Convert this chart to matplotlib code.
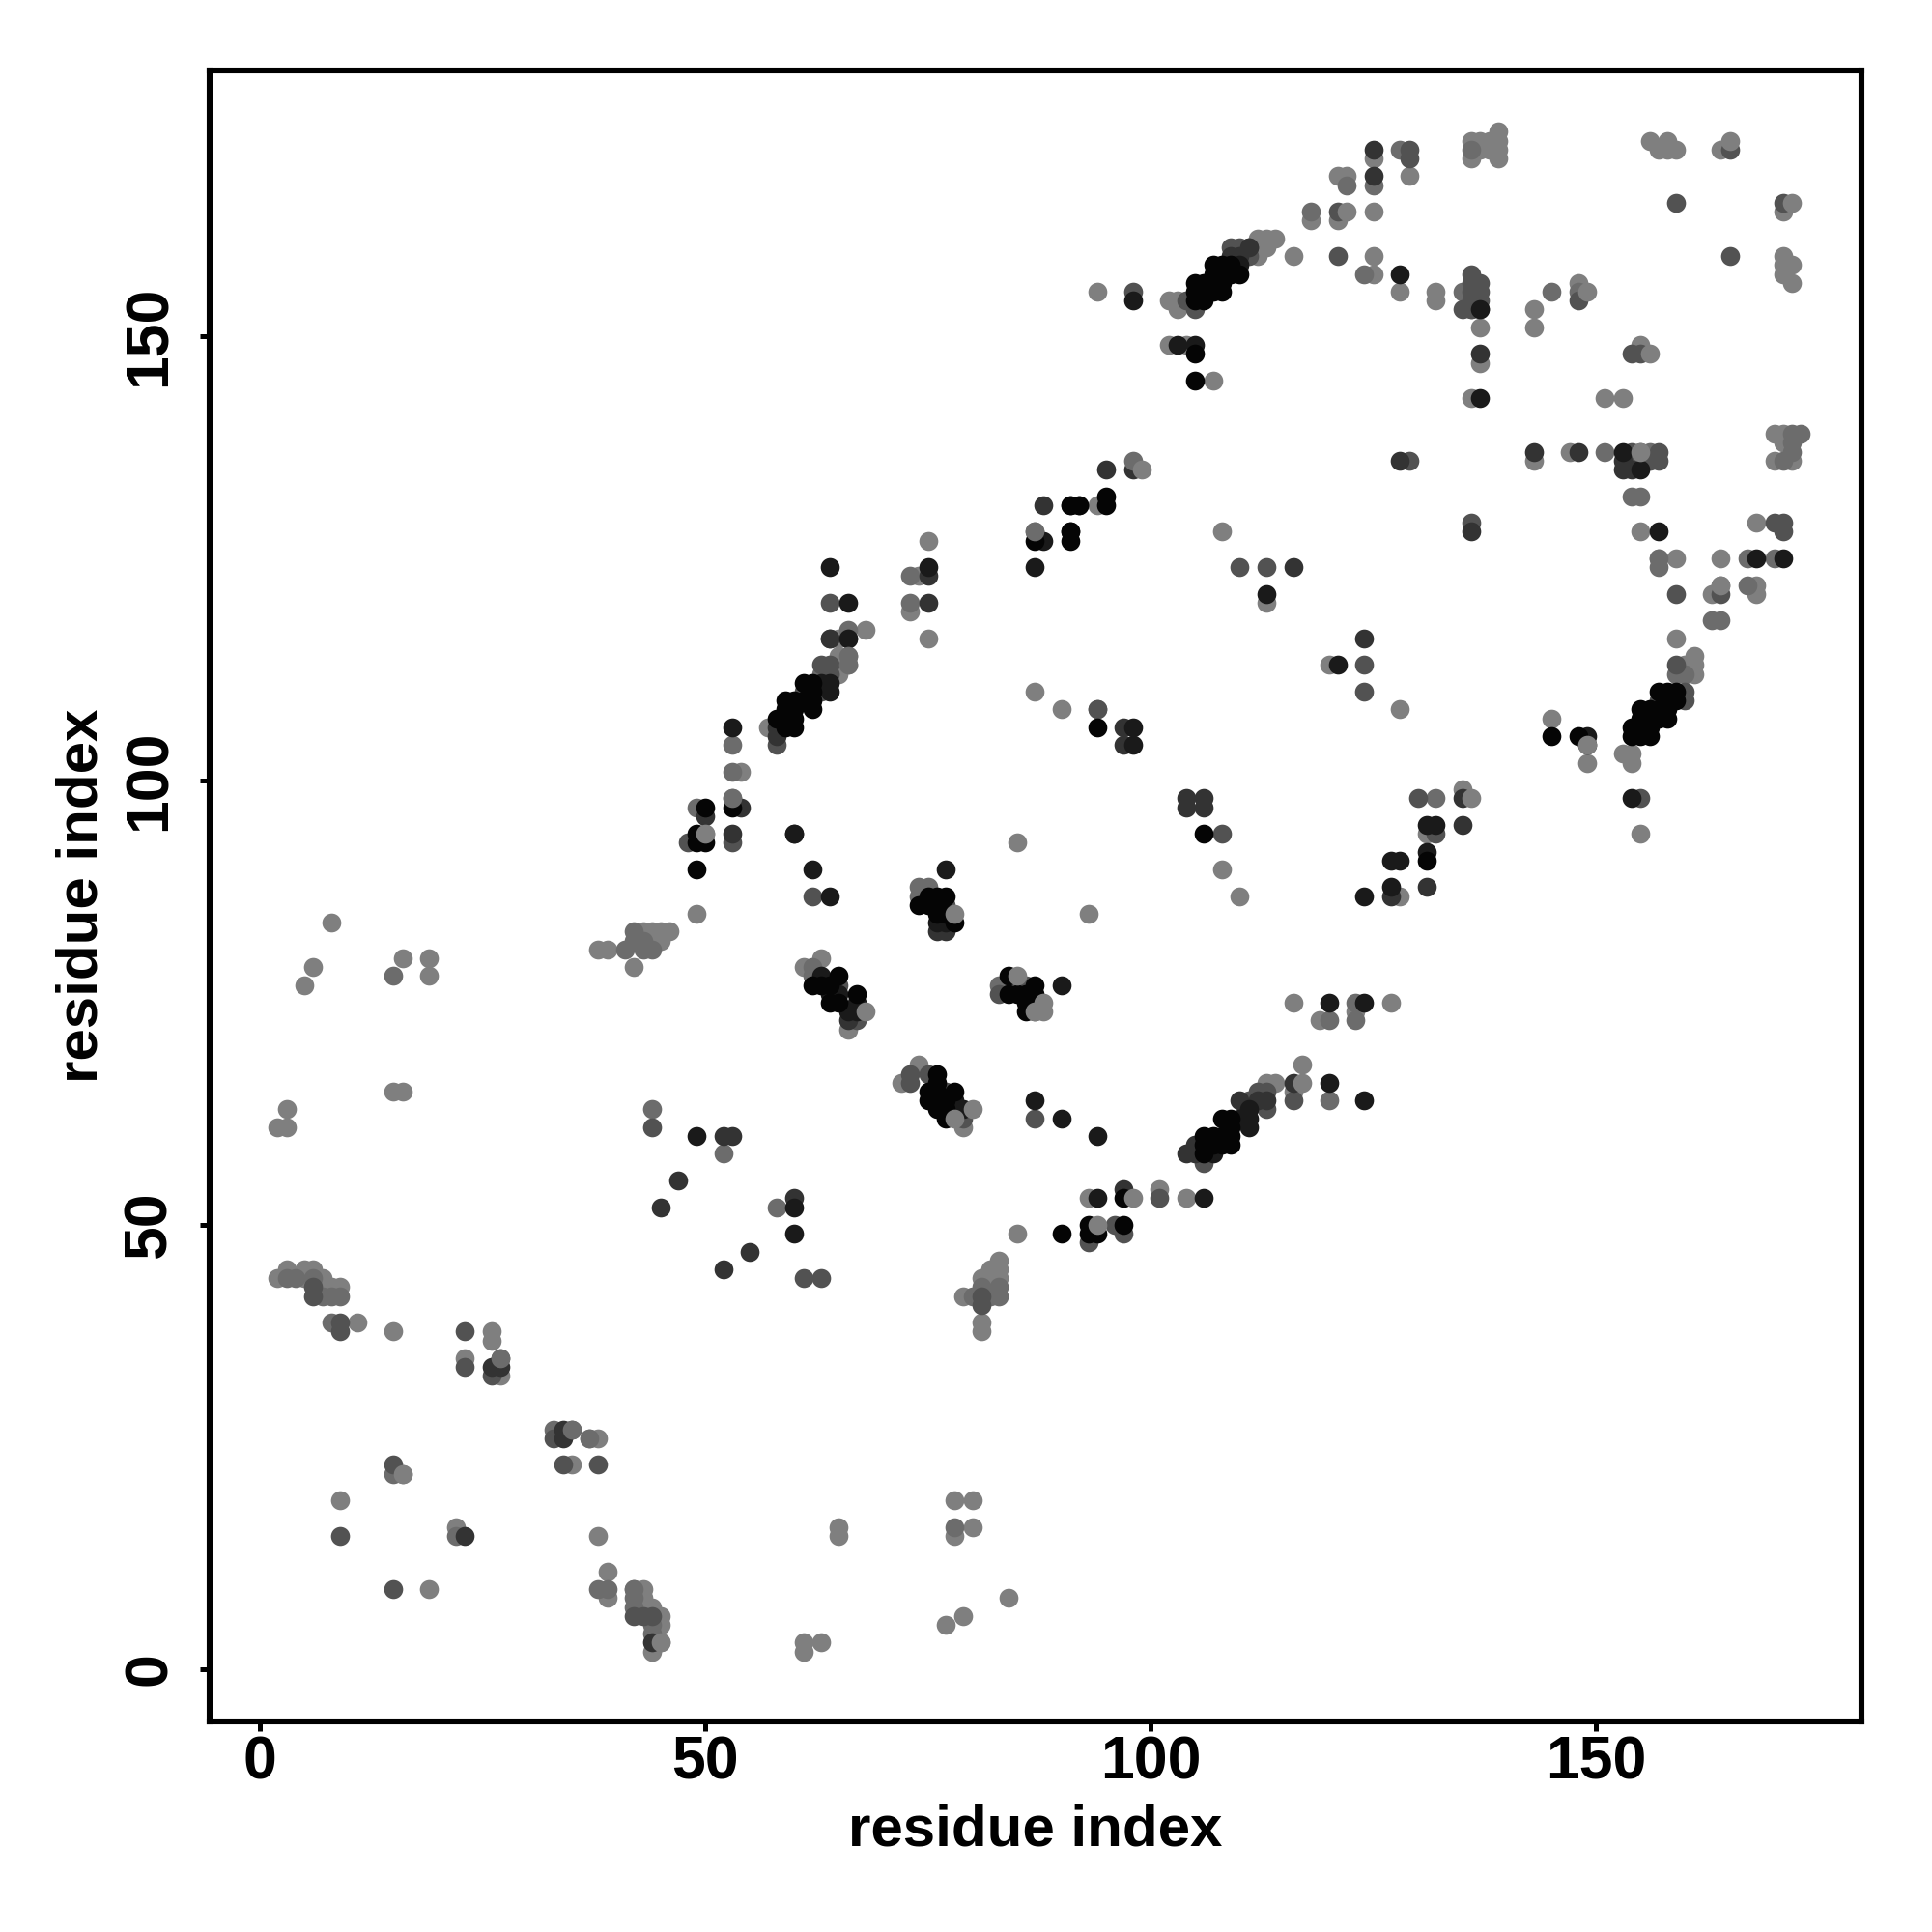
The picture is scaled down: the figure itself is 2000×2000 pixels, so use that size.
import matplotlib
matplotlib.use("Agg")
import matplotlib.pyplot as plt

# contact pairs (residue x, residue y) grouped by how dark the point is
grey_50 = [(136,172),(137,172),(138,172),(139,172),(137,171),(138,171),(139,171),(136,170),(139,170),(139,173),
    (125,170),(129,168),(121,168),(122,168),(121,163),(118,163),(125,164),(116,159),(125,159),(125,157),(128,155),
    (132,155),(132,154),(137,151),(137,147),(136,143),(143,153),(143,151),(148,156),(151,143),(153,143),(155,149),
    (156,172),(158,172),(157,171),(158,171),(159,171),(164,171),(171,164),(171,159),(171,158),(172,158),(171,157),
    (172,156),(94,155),(102,154),(103,154),(103,153),(112,161),(112,160),(112,159),(113,161),(113,160),(114,161),
    (102,149),(104,149),(107,145),(143,136),(147,137),(170,139),(171,139),(171,138),(170,136),(172,136),(94,131),
    (108,128),(155,128),(168,129),(157,125),(159,125),(164,125),(120,113),(128,108),(145,107),(149,102),(113,120),
    (159,116),(163,121),(164,122),(168,122),(168,121),(161,114),(161,113),(161,112),(160,113),(153,103),(154,103),
    (154,102),(155,94),(135,99),(131,94),(128,87),(74,123),(73,119),(68,117),(65,116),(66,114),(66,113),(65,114),
    (65,112),(57,106),(53,98),(54,101),(50,94),(49,85),(108,90),(85,93),(93,85),(110,87),(90,108),(87,110),
    (75,127),(75,116),(63,80),(61,79),(66,72),(72,66),(74,68),(79,61),(119,73),(116,75),(127,75),(123,74),(117,68),
    (113,66),(114,66),(116,65),(85,49),(93,53),(104,53),(101,54),(83,46),(82,45),(83,45),(81,44),(82,44),(83,44),
    (79,42),(81,39),(81,38),(82,43),(2,44),(3,45),(5,45),(6,45),(5,44),(7,44),(7,43),(8,43),(9,43),(11,39),(15,38),
    (26,38),(26,37),(23,35),(27,33),(37,26),(38,26),(35,23),(38,15),(16,22),(9,19),(22,16),(39,11),(39,8),(19,9),
    (43,9),(43,8),(44,7),(43,7),(45,6),(45,5),(45,3),(42,9),(8,84),(6,79),(5,77),(16,80),(19,80),(19,78),(15,65),
    (16,65),(3,63),(2,61),(3,61),(38,81),(39,81),(42,79),(43,83),(44,83),(45,83),(46,83),(45,82),(61,3),(61,2),
    (63,3),(65,16),(65,15),(78,19),(80,19),(78,15),(80,16),(84,8),(79,6),(77,5),(44,2)]
grey_42 = [(136,171),(125,167),(122,167),(118,164),(124,157),(135,155),(128,171),(137,153),(136,153),(145,155),
    (148,155),(154,132),(155,132),(172,139),(173,139),(172,138),(172,137),(171,136),(151,137),(170,125),(167,125),
    (157,124),(159,112),(160,112),(163,118),(164,118),(167,122),(132,98),(53,104),(53,101),(73,123),(73,120),
    (66,117),(63,112),(64,112),(87,128),(74,88),(75,88),(74,87),(62,79),(62,78),(83,77),(84,77),(120,64),(120,73),
    (58,52),(52,58),(44,63),(81,43),(80,42),(82,42),(83,42),(83,43),(4,44),(6,44),(7,42),(8,42),(9,42),(8,39),
    (33,27),(37,26),(22,15),(15,22),(38,9),(39,9),(42,8),(42,7),(44,5),(44,4),(41,81),(42,83),(42,82),(43,82),
    (43,81),(44,81),(15,78),(78,16),(123,75),(123,73),(154,136),(155,137),(156,137),(49,97),(94,108),(3,44)]
grey_32 = [(129,171),(129,170),(121,164),(159,165),(121,159),(165,159),(165,171),(171,165),(136,157),(136,156),
    (137,156),(136,155),(137,155),(136,154),(137,154),(136,153),(135,153),(98,155),(104,154),(105,153),(110,160),
    (109,160),(111,159),(111,160),(129,136),(155,148),(154,136),(155,136),(156,136),(157,136),(157,137),(154,137),
    (136,129),(170,129),(171,129),(171,128),(110,124),(113,124),(124,113),(124,110),(159,121),(164,121),
    (159,113),(160,110),(160,109),(157,109),(155,98),(132,94),(48,93),(53,93),(64,113),(63,113),(64,112),(63,110),
    (64,120),(66,116),(64,116),(62,87),(87,62),(108,94),(94,108),(73,67),(73,66),(75,67),(77,65),(79,62),(83,76),
    (86,77),(77,86),(67,73),(65,77),(87,74),(106,57),(116,64),(112,65),(113,65),(113,63),(112,64),(111,64),(44,61),
    (61,44),(63,44),(93,48),(96,50),(97,49),(101,53),(81,42),(81,41),(6,43),(6,42),(9,39),(9,38),
    (15,9),(9,15),(23,38),(23,34),(26,33),(27,35),(33,26),(35,27),(34,23),(38,23),(15,23),(42,6),(43,6),(44,6),
    (148,154),(154,148),(130,98),(61,110),(58,104)]
grey_20 = [(125,171),(125,168),(137,148),(111,160),(128,136),(148,137),(154,135),(153,136),(153,135),(143,137),
    (95,135),(98,135),(136,128),(116,124),(124,116),(91,131),(92,131),(88,131),(75,123),(75,120),(53,94),(54,97),(50,96),
    (60,94),(64,116),(58,106),(58,105),(97,106),(97,104),(104,97),(106,97),(104,98),(106,98),(66,73),(76,83),(77,83),
    (104,58),(105,58),(105,59),(110,64),(113,64),(116,66),(60,53),(45,52),(47,55),(52,60),(53,60),(55,47),(52,45),(97,54),
    (135,95),(135,98),(131,88),(127,87),(44,3),(23,15),(26,34),(27,34),(34,27),(34,26),(112,64),(109,159),(110,159)]
grey_10 = [(98,154),(105,149),(103,149),(137,143),(137,153),(157,128),(128,157),(153,137),(155,135),(168,125),(171,125),
    (91,128),(121,113),(113,121),(149,105),(154,98),(131,95),(132,95),(131,92),(127,91),(128,91),(127,88),(124,87),
    (75,124),(64,124),(64,87),(66,120),(53,106),(60,94),(66,116),(64,111),(63,111),(64,110),(88,127),(87,124),(98,106),
    (98,104),(77,90),(62,90),(87,64),(90,62),(94,60),(120,66),(124,64),(120,75),(124,75),(106,53),(94,53),(60,52),
    (60,49),(49,60),(90,77),(76,84),(77,84),(67,75),(66,74),(67,74),(64,76),(65,76),(63,78),(79,63),(78,64),(78,63),
    (107,58),(110,62),(111,62),(111,61),(111,63),(149,104),(110,158)]
grey_03 = [(105,156),(105,155),(105,154),(106,156),(106,155),(106,154),(107,158),(107,157),(107,156),(107,155),(108,158),
    (108,157),(108,156),(108,155),(109,158),(109,157),(110,157),(105,148),(105,145),(91,131),(95,132),(95,131),(91,127),(92,131),
    (159,110),(159,109),(158,110),(157,110),(158,109),(158,108),(158,107),(157,108),(157,107),(156,108),(155,108),(156,107),
    (155,107),(156,106),(155,106),(156,105),(155,105),(154,106),(154,105),(145,105),(148,105),(131,91),(106,94),(53,97),(50,97),(49,94),
    (49,93),(50,93),(49,90),(61,111),(62,111),(62,110),(62,109),(62,108),(61,109),(60,109),(60,108),(59,109),(59,108),(59,107),
    (60,107),(58,107),(59,106),(60,106),(87,127),(91,128),(94,106),(74,86),(75,87),(75,86),(76,87),(77,87),(76,86),
    (76,85),(77,85),(78,84),(62,77),(63,77),(65,78),(64,77),(64,75),(65,75),(67,76),(84,78),(84,76),(85,76),(87,77),
    (86,76),(87,76),(86,75),(87,75),(86,74),(76,67),(76,66),(76,65),(75,65),(75,64),(76,64),(76,63),(78,65),(77,64),(77,63),(77,62),
    (106,60),(107,60),(106,59),(107,59),(106,58),(108,62),(109,62),(108,60),(109,61),(109,60),(108,59),(109,59),(93,50),(93,49),(94,49),
    (97,50),(97,53),(90,49)]
# these sit on top of the darker points
top_50 = [(50,94),(80,63),(78,85),(68,74),(99,135),(85,78),(94,50),(98,53),(122,164),(149,104),(136,98),(172,165),
    (149,155),(156,148),(165,172),(117,66),(78,62),(88,75),(88,74),(87,74),(164,122),(155,137),(45,3),(16,22)]
top_42 = [(66,114),(66,113),(87,128),(53,98),(98,136),(157,125),(35,27),(27,35),(42,9)]

tick_vals = [0, 50, 100, 150]
layers = [(grey_50, "#7f7f7f"), (grey_42, "#6c6c6c"), (grey_32, "#525252"), (grey_20, "#333333"),
          (grey_10, "#1a1a1a"), (grey_03, "#050505"), (top_42, "#6c6c6c"), (top_50, "#7f7f7f")]

plt.rcParams['font.family'] = ['Liberation Sans', 'DejaVu Sans']
plt.rcParams['font.weight'] = 'bold'

fig = plt.figure(figsize=(10, 10), dpi=200)
ax = fig.add_axes([217/2000, 1 - 1782/2000, 1710/2000, 1709/2000])
for pts, col in layers:
    xs, ys = zip(*pts)
    ax.scatter(xs, ys, s=50, c=col, linewidths=0)

ax.set_xlim(-5.64, 179.8)
ax.set_ylim(-5.87, 179.9)
ax.set_xticks(tick_vals)
ax.set_yticks(tick_vals)
ax.tick_params(length=3.5, width=1.8, labelsize=22.5, pad=8)
ax.tick_params(axis='x', pad=1.5)
for lab in ax.get_yticklabels():
    lab.set_rotation(90)
    lab.set_va('center')
for s in ax.spines.values():
    s.set_linewidth(2.2)
ax.set_xlabel("residue index", fontsize=21.6, fontweight='bold', labelpad=4.5)
ax.set_ylabel("residue index", fontsize=21.6, fontweight='bold', labelpad=5)

fig.savefig("out.png", dpi=200)
